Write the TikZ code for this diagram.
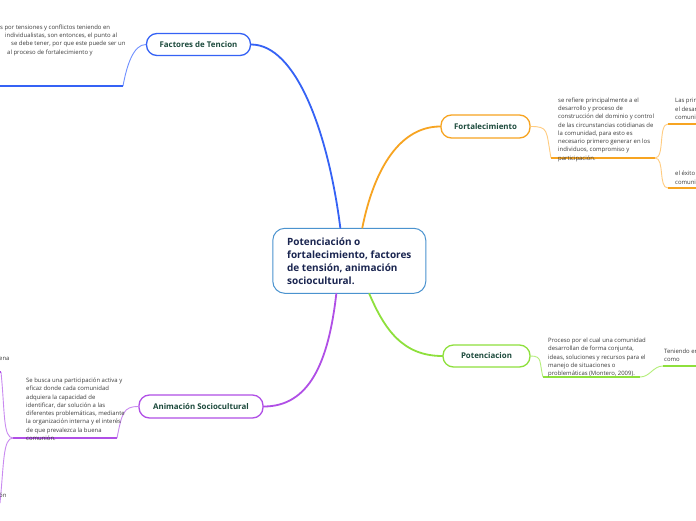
\documentclass[tikz,border=0pt]{standalone}
\usepackage{fontspec}
\setmainfont{Open Sans}
\definecolor{blueC}{HTML}{3562F5}
\definecolor{blueL}{HTML}{7090FF}
\definecolor{orangeC}{HTML}{F7A421}
\definecolor{orangeL}{HTML}{FFCC80}
\definecolor{greenC}{HTML}{8EE03C}
\definecolor{greenL}{HTML}{B4EE7A}
\definecolor{purpleC}{HTML}{B04FE6}
\definecolor{purpleL}{HTML}{C98AF0}
\definecolor{centreB}{HTML}{4B93CF}
\definecolor{titleT}{HTML}{1C4A3C}
\definecolor{centreT}{HTML}{1A2550}
\definecolor{bodyT}{HTML}{3A3A3A}
\tikzset{
  central/.style={draw=centreB, line width=1pt, fill=white, rounded corners=12pt,
    minimum width=153pt, minimum height=65pt, align=left, text=centreT,
    font=\bfseries\fontsize{10}{13}\selectfont, inner sep=0pt},
  titlebox/.style={draw=#1, line width=1.3pt, fill=white, rounded corners=10.5pt,
    text=titleT, font=\bfseries\fontsize{7.9}{9}\selectfont, inner sep=0pt},
  bodytxt/.style={text=bodyT, font=\fontsize{5.95}{8.3}\selectfont, align=left,
    inner sep=0pt, anchor=north west},
  frag/.style={text=bodyT, font=\fontsize{5.95}{8.3}\selectfont, inner sep=0pt, anchor=west},
  mainconn/.style={draw=#1, line width=1.8pt, line cap=round},
  subconn/.style={draw=#1, line width=0.9pt},
  uline/.style={draw=#1, line width=1.8pt},
}
\begin{document}
\begin{tikzpicture}[x=1pt,y=-1pt]
\useasboundingbox (0,0) rectangle (696,520);
\clip (0,0) rectangle (696,520);
\fill[white] (0,0) rectangle (696,520);

% nodes
\node[central] (c) at (349.3,260.8) {Potenciación o\\fortalecimiento, factores\\de tensión, animación\\sociocultural.};
\node[titlebox=blueC, minimum width=104pt, minimum height=22pt] (fac) at (198.5,44.5) {Factores de Tencion};
\node[titlebox=orangeC, minimum width=89pt, minimum height=23pt] (fort) at (485.5,126.5) {Fortalecimiento};
\node[titlebox=greenC, minimum width=87pt, minimum height=22pt] (pot) at (486.5,356) {Potenciacion};
\node[titlebox=purpleC, minimum width=124pt, minimum height=23pt] (anim) at (201,406.5) {Animación Sociocultural};

% main connectors
\draw[mainconn=blueC] ([xshift=-9pt]c.north) .. controls +(-12,-95) and +(45,0) .. (fac.east);
\draw[mainconn=orangeC] ([xshift=13pt]c.north) .. controls +(12,-60) and +(-40,0) .. (fort.west);
\draw[mainconn=greenC] ([xshift=20pt]c.south) .. controls +(15,35) and +(-40,0) .. (pot.west);
\draw[mainconn=purpleC] ([xshift=-13pt]c.south) .. controls +(-8,70) and +(45,0) .. (anim.east);

% Factores branch
\coordinate (fA) at (123,86);
\coordinate (fAL) at (-3,86);
\draw[subconn=blueL] (fac.west) .. controls +(-12,0) and +(4,-22) .. (fA);
\draw[uline=blueC] (fA) -- (fAL);
\node[bodytxt] (ft1) at (0,24.5) {s por tensiones y conflictos teniendo en};
\node[bodytxt] (ft2) at (5,32.8) {individualistas, son entonces, el punto al};
\node[bodytxt] (ft3) at (11,41.1) {se debe tener, por que este puede ser un};
\node[bodytxt] (ft4) at (7,49.4) {al proceso de fortalecimiento y};

% Fortalecimiento branch
\coordinate (fU) at (551,158);
\coordinate (fR) at (655,158);
\coordinate (fR1) at (668,124);
\coordinate (fR2) at (668,188);
\coordinate (fR1e) at (700,124);
\coordinate (fR2e) at (700,188);
\draw[subconn=orangeL] (fort.east) .. controls +(18,0) and +(-5,-28) .. (fU);
\draw[uline=orangeC] (fU) -- (fR);
\draw[subconn=orangeL] (fR) .. controls +(10,0) and +(-10,0) .. (fR1);
\draw[subconn=orangeL] (fR) .. controls +(10,0) and +(-10,0) .. (fR2);
\draw[uline=orangeC] (fR1) -- (fR1e);
\draw[uline=orangeC] (fR2) -- (fR2e);
\node[bodytxt] (fortT) at (558,97.4) {se refiere principalmente a  el\\desarrollo y proceso de\\construcción  del dominio y control\\de las circunstancias cotidianas de\\la comunidad, para esto es\\necesario primero generar en los\\individuos, compromiso y\\participación.};
\node[bodytxt] (fr1T) at (675,98.4) {Las prin\\el desar\\comunic};
\node[bodytxt] (fr2T) at (675,171) {el éxito\\comunic};

% Potenciacion branch
\coordinate (pU) at (543,377);
\coordinate (pR) at (640,377);
\coordinate (pR1) at (663,366);
\coordinate (pR1e) at (700,366);
\draw[subconn=greenL] (pot.east) .. controls +(12,0) and +(-4,-15) .. (pU);
\draw[uline=greenC] (pU) -- (pR);
\draw[subconn=greenL] (pR) .. controls +(10,0) and +(-10,0) .. (pR1);
\draw[uline=greenC] (pR1) -- (pR1e);
\node[bodytxt] (potT) at (548,337.7) {Proceso por el cual una comunidad\\desarrollan de forma conjunta,\\ideas, soluciones y recursos para el\\manejo  de situaciones o\\problemáticas (Montero, 2009).};
\node[bodytxt] (potR) at (664,348.4) {Teniendo en\\como};

% Animacion branch
\coordinate (aU) at (117,438);
\coordinate (aL) at (13,438);
\coordinate (aT) at (1,372);
\coordinate (aTe) at (-5,372);
\coordinate (aB) at (0,503);
\coordinate (aBe) at (-5,503);
\draw[subconn=purpleL] (anim.west) .. controls +(-15,0) and +(5,-25) .. (aU);
\draw[uline=purpleC] (aU) -- (aL);
\draw[subconn=purpleL] (aL) .. controls +(-10,0) and +(4,40) .. (aT);
\draw[subconn=purpleL] (aL) .. controls +(-10,0) and +(4,-40) .. (aB);
\draw[uline=purpleC] (aT) -- (aTe);
\draw[uline=purpleC] (aB) -- (aBe);
\node[bodytxt] (animT) at (26,377.7) {Se busca una participación activa y\\eficaz donde cada comunidad\\adquiera la capacidad de\\identificar, dar solución a las\\diferentes problemáticas, mediante\\la organización interna y el interés\\de que prevalezca la buena\\comunión.};
\node[frag] (ena) at (-1,359) {ena};
\node[frag] (on) at (-1,495) {ón};
\end{tikzpicture}
\end{document}
